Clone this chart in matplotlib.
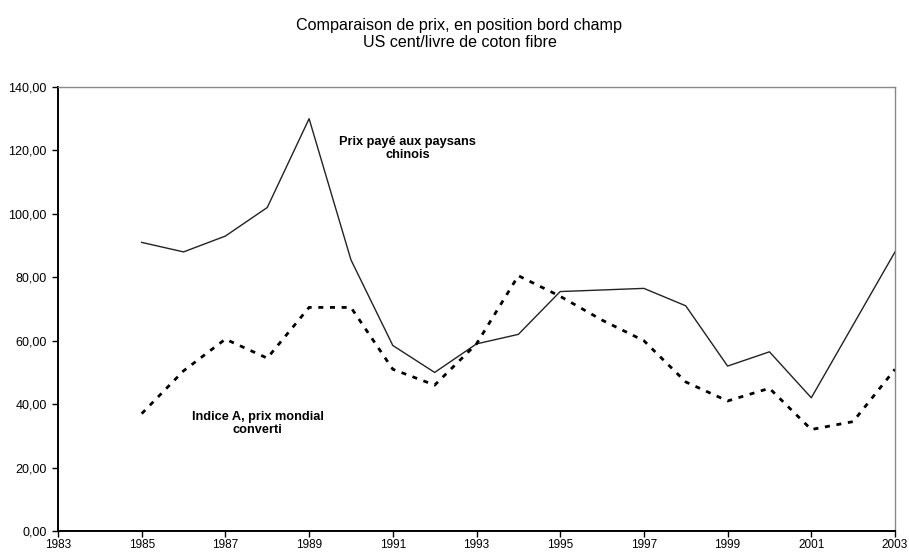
import matplotlib.pyplot as plt
from matplotlib.ticker import FuncFormatter

plt.rcParams['font.family'] = ['Liberation Sans', 'DejaVu Sans']

years = [1985, 1986, 1987, 1988, 1989, 1990, 1991, 1992, 1993, 1994,
         1995, 1996, 1997, 1998, 1999, 2000, 2001, 2002, 2003]
prix_chinois = [91, 88, 93, 102, 130, 85.5, 58.5, 50, 59, 62,
                75.5, 76, 76.5, 71, 52, 56.5, 42, 65, 88]
indice_a = [37, 50.5, 60.5, 54.5, 70.5, 70.5, 51, 46, 59, 80.5,
            74, 66.5, 60, 47, 41, 45, 32, 34.5, 51]

xticks = list(range(1983, 2004, 2))
yticks = list(range(0, 141, 20))

fig = plt.figure(figsize=(9.09, 5.55), dpi=100)
ax = fig.add_axes([58/909, 1 - 531/555, (895-58)/909, (531-87)/555])

ax.plot(years, prix_chinois, color='#222222', lw=1.0)
ax.plot(years, indice_a, color='black', lw=2.0, linestyle=(0, (1.8, 2.4)))

ax.set_xlim(1983, 2003)
ax.set_ylim(0, 140)
ax.set_xticks(xticks)
ax.set_yticks(yticks)
ax.yaxis.set_major_formatter(FuncFormatter(lambda v, p: f"{v:.2f}".replace('.', ',')))
ax.tick_params(length=4, width=1, direction='out', color='black')
ax.tick_params(axis='x', pad=2, labelsize=8.5)
ax.tick_params(axis='y', pad=4, labelsize=9)

for s in ['left', 'bottom']:
    ax.spines[s].set_color('black')
    ax.spines[s].set_linewidth(1.4)
for s in ['top', 'right']:
    ax.spines[s].set_color('#888888')
    ax.spines[s].set_linewidth(1.0)

# etiquettes des courbes
ax.text(1991.35, 120.6, 'Prix payé aux paysans\nchinois', fontsize=9.2, fontweight='bold',
        ha='center', va='center', linespacing=1.05)
ax.text(1987.77, 33.9, 'Indice A, prix mondial\nconverti', fontsize=9.2, fontweight='bold',
        ha='center', va='center', linespacing=1.05)

fig.text(0.5055, 0.9387, 'Comparaison de prix, en position bord champ\nUS cent/livre de coton fibre',
         fontsize=11.6, ha='center', va='center', linespacing=1.1)

fig.savefig('out.png', dpi=100)
